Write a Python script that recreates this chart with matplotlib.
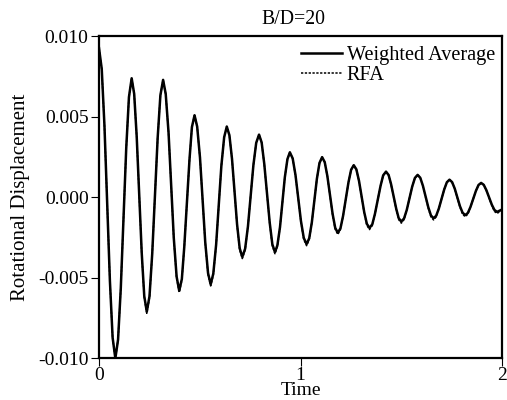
import matplotlib
matplotlib.use("Agg")
import matplotlib.pyplot as plt

plt.rcParams['font.family'] = ['Liberation Serif', 'DejaVu Serif']

# valeurs (temps, deplacement de rotation)
time = [0.000, 0.0135, 0.027, 0.0405, 0.054, 0.0675,
        0.081, 0.0945, 0.108, 0.1215, 0.135, 0.1485,
        0.162, 0.1745, 0.187, 0.1995, 0.212, 0.2245,
        0.237, 0.2505, 0.264, 0.2775, 0.291, 0.3045,
        0.318, 0.331, 0.345, 0.358, 0.371, 0.385,
        0.398, 0.411, 0.423, 0.436, 0.449, 0.461,
        0.474, 0.487, 0.501, 0.514, 0.527, 0.541,
        0.554, 0.567, 0.581, 0.594, 0.607, 0.621,
        0.634, 0.647, 0.660, 0.6725, 0.685, 0.698,
        0.711, 0.725, 0.739, 0.7525, 0.766, 0.780,
        0.794, 0.807, 0.820, 0.8335, 0.847, 0.860,
        0.873, 0.885, 0.898, 0.910, 0.922, 0.935,
        0.947, 0.961, 0.975, 0.9885, 1.002, 1.016,
        1.030, 1.043, 1.056, 1.0685, 1.081, 1.094,
        1.107, 1.120, 1.133, 1.146, 1.159, 1.172,
        1.185, 1.198, 1.211, 1.2245, 1.238, 1.251,
        1.264, 1.277, 1.290, 1.303, 1.316, 1.329,
        1.342, 1.356, 1.369, 1.383, 1.397, 1.410,
        1.424, 1.437, 1.449, 1.462, 1.475, 1.487,
        1.500, 1.5135, 1.527, 1.5405, 1.554, 1.5675,
        1.581, 1.594, 1.607, 1.6205, 1.634, 1.647,
        1.660, 1.673, 1.686, 1.6995, 1.713, 1.726,
        1.739, 1.752, 1.765, 1.778, 1.791, 1.804,
        1.817, 1.830, 1.843, 1.8565, 1.870, 1.883,
        1.896, 1.909, 1.922, 1.9355, 1.949, 1.962,
        1.975, 2.000]

weighted_avg = [0.00927, 0.00798, 0.00445, -0.00037, -0.00518, -0.00871,
                -0.0100, -0.00883, -0.00565, -0.0013, 0.00305, 0.00623,
                0.0074, 0.00643, 0.00378, 0.00015, -0.00347, -0.00613,
                -0.0071, -0.00614, -0.0035, 0.0001, 0.0037, 0.00634,
                0.0073, 0.00642, 0.00403, 0.00075, -0.00252, -0.00492,
                -0.0058, -0.00507, -0.00308, -0.00035, 0.00237, 0.00437,
                0.0051, 0.0044, 0.00248, -0.00015, -0.00277, -0.0047,
                -0.0054, -0.00474, -0.00295, -0.0005, 0.00195, 0.00374,
                0.0044, 0.00386, 0.00238, 0.00035, -0.00167, -0.00316,
                -0.0037, -0.00319, -0.0018, 0.0001, 0.0020, 0.00339,
                0.0039, 0.00341, 0.00208, 0.00025, -0.00157, -0.00291,
                -0.0034, -0.00298, -0.00185, -0.0003, 0.00125, 0.00238,
                0.0028, 0.00242, 0.00138, -0.00005, -0.00147, -0.00252,
                -0.0029, -0.00254, -0.00155, -0.0002, 0.00115, 0.00214,
                0.0025, 0.00219, 0.00133, 0.00015, -0.00102, -0.00189,
                -0.0022, -0.00192, -0.00115, -0.0001, 0.00095, 0.00172,
                0.0020, 0.00174, 0.00103, 0.00005, -0.00092, -0.00164,
                -0.0019, -0.00167, -0.00103, -0.00015, 0.00072, 0.00137,
                0.0016, 0.00139, 0.00083, 0.00005, -0.00072, -0.00129,
                -0.0015, -0.00131, -0.00078, -0.00005, 0.00067, 0.00121,
                0.0014, 0.00122, 0.00073, 0.00005, -0.00062, -0.00112,
                -0.0013, -0.00114, -0.0007, -0.0001, 0.0005, 0.00094,
                0.0011, 0.00095, 0.00055, 0.0, -0.00055, -0.00095,
                -0.0011, -0.00097, -0.0006, -0.0001, 0.0004, 0.00077,
                0.0009, 0.00078, 0.00045, 0.0, -0.00045, -0.00078,
                -0.0009, -0.00075]

rfa = [0.00925, 0.00796, 0.00443, -0.00039, -0.00520, -0.00874,
       -0.0100, -0.00884, -0.00566, -0.0013, 0.00304, 0.00622,
       0.0074, 0.00642, 0.00376, 0.00012, -0.00352, -0.00620,
       -0.0072, -0.00622, -0.0035, 0.0001, 0.0037, 0.00633,
       0.0073, 0.00641, 0.00401, 0.00072, -0.00258, -0.00500,
       -0.0059, -0.00514, -0.00310, -0.00035, 0.00236, 0.00436,
       0.0051, 0.0044, 0.00246, -0.00018, -0.00282, -0.0048,
       -0.0055, -0.00482, -0.00298, -0.0005, 0.00194, 0.00373,
       0.0044, 0.00385, 0.00236, 0.00032, -0.00172, -0.00325,
       -0.0038, -0.00326, -0.0018, 0.0001, 0.0020, 0.00338,
       0.0039, 0.00340, 0.00206, 0.00022, -0.00162, -0.00300,
       -0.0035, -0.00305, -0.00186, -0.0003, 0.00124, 0.00237,
       0.0028, 0.00241, 0.00136, -0.00008, -0.00152, -0.00261,
       -0.0030, -0.00261, -0.00157, -0.0002, 0.00114, 0.00213,
       0.0025, 0.00218, 0.00131, 0.00012, -0.00107, -0.00198,
       -0.0023, -0.00199, -0.00117, -0.0001, 0.00094, 0.00171,
       0.0020, 0.00173, 0.00101, 0.00002, -0.00097, -0.00173,
       -0.0020, -0.00174, -0.00105, -0.00015, 0.00071, 0.00136,
       0.0016, 0.00138, 0.00081, 0.00002, -0.00077, -0.00138,
       -0.0016, -0.00138, -0.00080, -0.00005, 0.00066, 0.00120,
       0.0014, 0.00121, 0.00071, 0.00002, -0.00067, -0.00121,
       -0.0014, -0.00121, -0.0007, -0.0001, 0.0005, 0.00093,
       0.0011, 0.00094, 0.00053, -0.00003, -0.00060, -0.00104,
       -0.0012, -0.00104, -0.0006, -0.0001, 0.0004, 0.00076,
       0.0009, 0.00077, 0.00043, -0.00003, -0.00050, -0.00087,
       -0.0010, -0.00078]

x_ticks = [0, 1, 2]
y_ticks = [-0.010, -0.005, 0.000, 0.005, 0.010]

fig = plt.figure(figsize=(5.07, 4.0), dpi=100)
ax = fig.add_axes([0.1953, 0.104, 0.795, 0.805])

ax.plot(time, weighted_avg, color='black', lw=1.8, label='Weighted Average')
ax.plot(time, rfa, color='black', lw=1.1, ls=(0, (1.5, 1)), label='RFA')

ax.set_xlim(0, 2)
ax.set_ylim(-0.010, 0.010)
ax.set_xticks(x_ticks)
ax.set_xticklabels([str(v) for v in x_ticks])
ax.set_yticks(y_ticks)
ax.set_yticklabels(['%.3f' % v for v in y_ticks])

for s in ax.spines.values():
    s.set_linewidth(1.6)
ax.tick_params(direction='out', length=5.5, width=0.8, labelsize=14)
ax.tick_params(axis='x', pad=0.5)
ax.tick_params(axis='y', pad=2)

ax.set_title('B/D=20', fontsize=14.2, pad=9, x=0.483)
ax.set_xlabel('Time', fontsize=14, labelpad=-1.5)
ax.set_ylabel('Rotational Displacement', fontsize=15, labelpad=6)

leg = ax.legend(loc='upper right', bbox_to_anchor=(1.0, 0.993), frameon=False,
                fontsize=14.6, handlelength=2.0, handletextpad=0.25,
                labelspacing=0.05, borderaxespad=0.15, borderpad=0.2)

fig.savefig('out.png', dpi=100)
